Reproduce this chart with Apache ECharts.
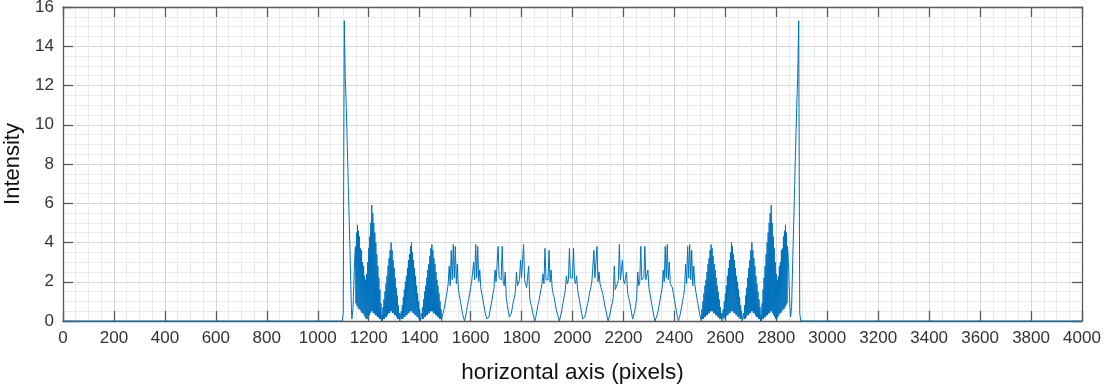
<!DOCTYPE html>
<html>
<head>
<meta charset="utf-8">
<script src="https://cdn.jsdelivr.net/npm/echarts@6/dist/echarts.min.js"></script>
<style>
  html, body { margin: 0; padding: 0; background: #ffffff; }
  #chart { width: 1112px; height: 392px; }
</style>
</head>
<body>
<div id="chart"></div>
<script>
// Intensity profile along the horizontal axis. Each block below is a run of
// evenly spaced samples: the sparse parts every 4 px, the dense fringe
// bundles next to the edges every 2 px.

// 1088 .. 1132, step 4: left edge peak
const edgeLeft = [0, 0, 0, 0.4, 15.3, 12.4, 10.9, 8.9, 6.9, 4.8, 2.8, 0.7];

// 1134 .. 1488, step 2: dense fringes on the left
const denseLeft = [
  0.1, 0.2, 0.6, 1.2, 2.0, 2.8, 3.4, 3.8, 0.9, 4.5, 0.8, 4.9, 0.7, 4.6, 0.6,
  4.3, 0.6, 3.7, 0.5, 3.6, 0.4, 3.0, 0.4, 2.8, 0.3, 2.3, 0.2, 2.1, 0.1, 2.4,
  0.1, 3.0, 0.2, 3.7, 0.3, 4.3, 0.4, 5.0, 0.5, 5.9, 0.5, 5.5, 0.4, 5.0, 0.4,
  4.5, 0.3, 4.0, 0.3, 3.4, 0.2, 2.8, 0.2, 2.2, 0.1, 1.6, 0.1, 0.9, 0.0,
  0.3, 0.0, 0.7, 0.1, 1.1, 0.1, 1.5, 0.2, 1.9, 0.2, 2.3, 0.3, 2.8, 0.4, 3.2, 0.4,
  3.6, 0.5, 4.0, 0.5, 3.6, 0.4, 3.1, 0.4, 2.7, 0.3, 2.2, 0.3, 1.7, 0.2, 1.3, 0.1,
  0.8, 0.1, 0.4, 0.0,
  0.1, 0.0, 0.5, 0.1, 0.8, 0.1, 1.2, 0.2, 1.6, 0.2, 2.0, 0.3, 2.3, 0.3, 2.7, 0.4,
  3.1, 0.4, 3.4, 0.5, 3.8, 0.5, 4.0, 0.5, 3.5, 0.4, 3.1, 0.4, 2.7, 0.3, 2.3, 0.3,
  1.8, 0.2, 1.4, 0.2, 1.0, 0.1, 0.6, 0.0, 0.1,
  0.0, 0.4, 0.1, 0.7, 0.1, 1.1, 0.2, 1.5, 0.2, 1.8, 0.3, 2.2, 0.3, 2.6, 0.4, 2.9,
  0.4, 3.3, 0.5, 3.7, 0.5, 3.9, 0.5, 3.6, 0.4, 3.2, 0.4, 2.9, 0.3, 2.5, 0.3, 2.1,
  0.2, 1.8, 0.2, 1.4, 0.1, 1.0, 0.1, 0.6, 0.0, 0.2
];

// 1492 .. 1992, step 4: sparse fringes on the left
const fringesLeft = [
  0.3, 0.6, 0.9, 1.2, 1.5, 1.9, 2.8, 1.8, 3.6, 2.1, 3.9, 2.2, 3.8, 1.9, 2.9, 1.6, 1.3, 1.0, 0.7, 0.4, 0.2, 0.0,
  0.2, 0.5, 0.8, 1.1, 1.4, 1.7, 2.0, 1.9, 3.0, 2.1, 3.9, 2.2, 3.8, 2.0, 2.6, 1.7, 1.4, 1.1, 0.8, 0.5, 0.3, 0.1, 0.0,
  0.2, 0.5, 0.8, 1.1, 1.4, 1.7, 2.6, 2.0, 2.1, 3.8, 2.2, 2.1, 2.1, 3.8, 2.0, 1.8, 2.5, 1.2, 0.8, 0.5, 0.2,
  0.1, 0.4, 0.7, 1.0, 1.2, 1.5, 2.5, 1.8, 1.9, 2.1, 3.1, 2.2, 2.1, 3.9, 2.1, 1.9, 1.7, 1.6, 2.8, 1.2, 0.9, 0.7, 0.4, 0.2, 0.0,
  0.2, 0.5, 0.8, 1.0, 1.3, 1.6, 1.9, 2.4, 1.9, 3.7, 2.1, 2.2, 2.1, 3.6, 2.0, 2.6, 1.7, 1.4, 1.2, 0.9, 0.6, 0.4, 0.2, 0.0,
  0.1, 0.4, 0.7, 1.0, 1.3, 1.6, 2.3, 1.9, 2.1, 3.7, 2.2
];

// 1996: centre of the pattern
const centre = [2.1];

// 2000 .. 2500, step 4: sparse fringes on the right
const fringesRight = [
  2.2, 3.7, 2.1, 1.9, 2.3, 1.6, 1.3, 1.0, 0.7, 0.4, 0.1,
  0.0, 0.2, 0.4, 0.7, 0.9, 1.2, 1.5, 1.7, 2.0, 2.1, 3.6, 2.2, 2.1, 3.8, 2.0, 2.5, 1.9, 1.7, 1.5, 1.3, 1.0, 0.7, 0.5, 0.2,
  0.0, 0.2, 0.4, 0.7, 0.9, 1.2, 2.8, 1.6, 1.7, 1.9, 2.1, 3.9, 2.1, 2.2, 3.1, 2.1, 1.9, 1.8, 2.5, 1.5, 1.2, 1.0, 0.7, 0.4, 0.1,
  0.2, 0.5, 0.8, 1.2, 2.5, 1.8, 2.0, 3.8, 2.1, 2.1, 2.2, 3.8, 2.1, 2.0, 2.6, 1.7, 1.4, 1.1, 0.8, 0.5, 0.2,
  0.0, 0.1, 0.3, 0.5, 0.8, 1.1, 1.4, 1.7, 2.6, 2.0, 3.8, 2.2, 3.9, 2.1, 3.0, 1.9, 2.0, 1.7, 1.4, 1.1, 0.8, 0.5, 0.2,
  0.0, 0.2, 0.4, 0.7, 1.0, 1.3, 1.6, 2.9, 1.9, 3.8, 2.2, 3.9, 2.1, 3.6, 1.8, 2.8, 1.9, 1.5, 1.2, 0.9, 0.6, 0.3
];

// 2504 .. 2858, step 2: dense fringes on the right
const denseRight = [
  0.2, 0.0, 0.6, 0.1, 1.0, 0.1, 1.4, 0.2, 1.8, 0.2, 2.1, 0.3, 2.5, 0.3, 2.9, 0.4,
  3.2, 0.4, 3.6, 0.5, 3.9, 0.5, 3.7, 0.5, 3.3, 0.4, 2.9, 0.4, 2.6, 0.3, 2.2, 0.3,
  1.8, 0.2, 1.5, 0.2, 1.1, 0.1, 0.7, 0.1, 0.4, 0.0,
  0.1, 0.0, 0.6, 0.1, 1.0, 0.2, 1.4, 0.2, 1.8, 0.3, 2.3, 0.3, 2.7, 0.4, 3.1, 0.4,
  3.5, 0.5, 4.0, 0.5, 3.8, 0.5, 3.4, 0.4, 3.1, 0.4, 2.7, 0.3, 2.3, 0.3, 2.0, 0.2,
  1.6, 0.2, 1.2, 0.1, 0.8, 0.1, 0.5, 0.0, 0.1,
  0.0, 0.4, 0.1, 0.8, 0.1, 1.3, 0.2, 1.7, 0.3, 2.2, 0.3, 2.7, 0.4, 3.1, 0.4, 3.6,
  0.5, 4.0, 0.5, 3.6, 0.4, 3.2, 0.4, 2.8, 0.3, 2.3, 0.2, 1.9, 0.2, 1.5, 0.1, 1.1,
  0.1, 0.7, 0.0, 0.3,
  0.0, 0.9, 0.1, 1.6, 0.1, 2.2, 0.2, 2.8, 0.2, 3.4, 0.3, 4.0, 0.3, 4.5, 0.4, 5.0,
  0.4, 5.5, 0.5, 5.9, 0.5, 5.0, 0.4, 4.3, 0.3, 3.7, 0.2, 3.0, 0.1,
  2.4, 0.1, 2.1, 0.2, 2.3, 0.3, 2.8, 0.4, 3.0, 0.4, 3.6, 0.5, 3.7, 0.6, 4.3,
  0.6, 4.6, 0.7, 4.9, 0.8, 4.5, 0.9, 3.8, 3.4, 2.8, 2.0, 1.2, 0.6, 0.2, 0.1
];

// 2860 .. 2904, step 4: right edge peak
const edgeRight = [0.7, 2.8, 4.8, 6.9, 8.9, 10.9, 12.4, 15.3, 0.4, 0, 0, 0];

// first sample position and spacing of each run
const runs = [
  [1088, 4, edgeLeft],
  [1134, 2, denseLeft],
  [1492, 4, fringesLeft],
  [1996, 4, centre],
  [2000, 4, fringesRight],
  [2504, 2, denseRight],
  [2860, 4, edgeRight]
];

// axis ranges and tick spacing
const xRange = [0, 4000];
const xTickStep = 200;
const yRange = [0, 16];
const yTickStep = 2;

const xTitle = 'horizontal axis (pixels)';
const yTitle = 'Intensity';

const points = [[xRange[0], 0]];
runs.forEach(function (run) {
  run[2].forEach(function (v, i) { points.push([run[0] + i * run[1], v]); });
});
points.push([xRange[1], 0]);

const font = "'Liberation Sans', Arial, Helvetica, sans-serif";
const axisColor = '#5a5a5a';
const labelColor = '#333333';

function baseAxis(range, step) {
  return {
    type: 'value',
    min: range[0],
    max: range[1],
    interval: step,
    axisLine: { show: true, onZero: false, lineStyle: { color: axisColor, width: 1.3 } },
    axisTick: { show: true, inside: true, length: 10, lineStyle: { color: axisColor, width: 1.3 } },
    minorTick: { show: false, splitNumber: 4 },
    splitLine: { show: false },
    minorSplitLine: { show: false },
    axisLabel: { show: false }
  };
}

function plain(v) { return String(v); }

const xBottom = Object.assign(baseAxis(xRange, xTickStep), {
  position: 'bottom',
  name: xTitle,
  nameLocation: 'middle',
  nameGap: 40,
  nameTextStyle: { fontFamily: font, fontSize: 22.5, color: '#111111' },
  splitLine: { show: true, lineStyle: { color: '#d6d6d6', width: 1 } },
  minorSplitLine: { show: true, lineStyle: { color: '#ebebeb', width: 1 } },
  axisLabel: { show: true, fontFamily: font, fontSize: 17, color: labelColor, margin: 9, formatter: plain }
});
const xTop = Object.assign(baseAxis(xRange, xTickStep), { position: 'top' });

const yLeft = Object.assign(baseAxis(yRange, yTickStep), {
  position: 'left',
  name: yTitle,
  nameLocation: 'middle',
  nameGap: 29,
  nameTextStyle: { fontFamily: font, fontSize: 22, color: '#111111' },
  splitLine: { show: true, lineStyle: { color: '#d6d6d6', width: 1 } },
  minorSplitLine: { show: true, lineStyle: { color: '#ebebeb', width: 1 } },
  axisLabel: { show: true, fontFamily: font, fontSize: 17, color: labelColor, margin: 9, formatter: plain }
});
const yRight = Object.assign(baseAxis(yRange, yTickStep), { position: 'right' });

const chart = echarts.init(document.getElementById('chart'), null, { renderer: 'canvas' });
chart.setOption({
  animation: false,
  backgroundColor: '#ffffff',
  grid: { left: 63, right: 30, top: 7, bottom: 71, containLabel: false, outerBoundsMode: 'none' },
  xAxis: [xBottom, xTop],
  yAxis: [yLeft, yRight],
  series: [{
    type: 'line',
    xAxisIndex: 0,
    yAxisIndex: 0,
    data: points,
    showSymbol: false,
    symbol: 'none',
    clip: false,
    z: 5,
    lineStyle: { color: '#0072BD', width: 1 },
    emphasis: { disabled: true }
  }]
});
</script>
</body>
</html>
